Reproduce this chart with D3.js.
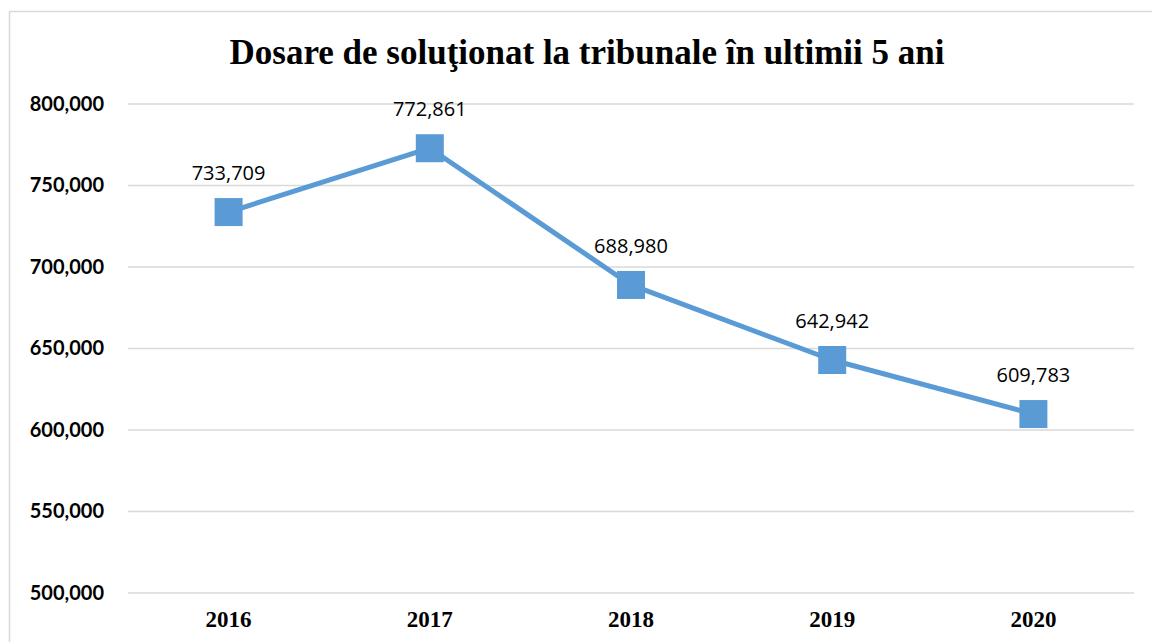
<!DOCTYPE html>
<html>
<head>
<meta charset="utf-8">
<script src="https://cdn.jsdelivr.net/npm/d3@7"></script>
<style>
  body { margin: 0; background: #fff; }
</style>
</head>
<body>
<div class="chart"></div>
<script>
const years = ['2016', '2017', '2018', '2019', '2020'];
const dosare = [733709, 772861, 688980, 642942, 609783];
const yTicks = [500000, 550000, 600000, 650000, 700000, 750000, 800000];

const W = 1152, H = 642;
const margin = ({top: 104, right: 18, bottom: 49, left: 128});

const svg = d3.select('.chart').append('svg')
    .attr('width', W)
    .attr('height', H);

// chart border
svg.append('rect')
    .attr('x', 9.5).attr('y', 11.5)
    .attr('width', 1160).attr('height', 660)
    .attr('fill', 'none')
    .attr('stroke', '#d9d9d9')
    .attr('stroke-width', 1.5);

const xScale = d3.scaleBand()
    .domain(years)
    .range([margin.left, W - margin.right]);

const yScale = d3.scaleLinear()
    .domain([500000, 800000])
    .range([H - margin.bottom, margin.top]);

const fmt = d3.format(',');

// gridlines
svg.append('g')
  .selectAll('line')
  .data(yTicks)
  .enter()
  .append('line')
    .attr('x1', margin.left)
    .attr('x2', W - margin.right)
    .attr('y1', d => yScale(d))
    .attr('y2', d => yScale(d))
    .attr('stroke', '#d9d9d9')
    .attr('stroke-width', 1.5);

// y axis labels
const yAxis = d3.axisLeft(yScale).tickValues(yTicks).tickFormat(fmt).tickSize(0).tickPadding(24);
svg.append('g')
    .attr('transform', `translate(${margin.left},0)`)
    .call(yAxis)
    .call(g => g.select('.domain').remove())
    .selectAll('text')
    .attr('font-family', 'Lato, "Open Sans", sans-serif')
    .attr('font-weight', 'bold')
    .attr('font-size', 20)
    .attr('fill', '#000');

// x axis labels
const xAxis = d3.axisBottom(xScale).tickSize(0).tickPadding(18);
svg.append('g')
    .attr('transform', `translate(0,${H - margin.bottom})`)
    .call(xAxis)
    .call(g => g.select('.domain').remove())
    .selectAll('text')
    .attr('font-family', '"Liberation Serif", "Times New Roman", serif')
    .attr('font-weight', 'bold')
    .attr('font-size', 23)
    .attr('fill', '#000');

const data = years.map((y, i) => ({year: y, value: dosare[i]}));
const cx = d => xScale(d.year) + xScale.bandwidth() / 2;

const line = d3.line()
    .x(cx)
    .y(d => yScale(d.value));

svg.append('path')
    .datum(data)
    .attr('d', line)
    .attr('fill', 'none')
    .attr('stroke', '#5b9bd5')
    .attr('stroke-width', 5)
    .attr('stroke-linejoin', 'round');

const ms = 28;
svg.selectAll('rect.marker')
  .data(data)
  .enter()
  .append('rect')
    .attr('class', 'marker')
    .attr('x', d => cx(d) - ms / 2)
    .attr('y', d => yScale(d.value) - ms / 2)
    .attr('width', ms)
    .attr('height', ms)
    .attr('fill', '#5b9bd5');

svg.selectAll('text.label')
  .data(data)
  .enter()
  .append('text')
    .attr('class', 'label')
    .attr('x', cx)
    .attr('y', d => yScale(d.value) - 32)
    .attr('text-anchor', 'middle')
    .attr('font-family', '"Open Sans", sans-serif')
    .attr('font-size', 20)
    .attr('fill', '#000')
    .text(d => fmt(d.value));

// title
svg.append('text')
    .attr('x', 587)
    .attr('y', 64)
    .attr('text-anchor', 'middle')
    .attr('font-family', '"Liberation Serif", "Times New Roman", serif')
    .attr('font-weight', 'bold')
    .attr('font-size', 35)
    .attr('fill', '#000')
    .text('Dosare de soluţionat la tribunale în ultimii 5 ani');
</script>
</body>
</html>
